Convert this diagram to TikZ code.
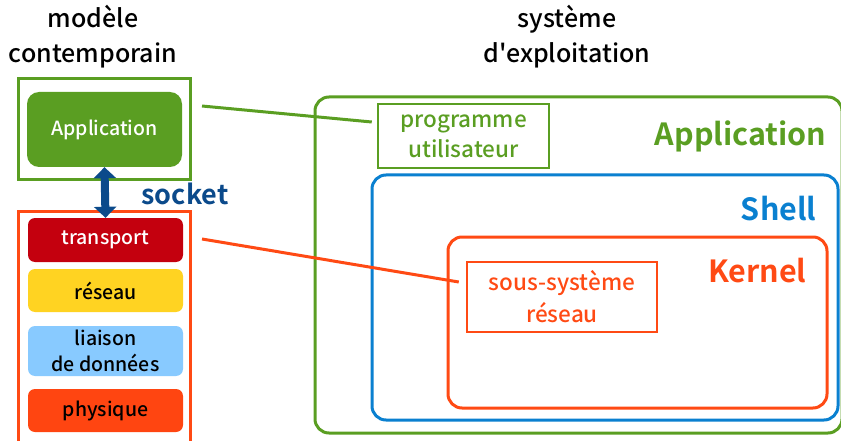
\documentclass[tikz,border=0pt]{standalone}
\usepackage{fontspec}
\IfFontExistsTF{Noto Sans CJK JP Medium}
    {\setmainfont{Noto Sans CJK JP Medium}[BoldFont={Noto Sans CJK JP Bold}, Ligatures=TeXOff]}
    {\setmainfont{Noto Sans CJK JP}[Ligatures=TeXOff]}
\usetikzlibrary{arrows.meta}
\definecolor{osgreen}{HTML}{5A9E22}
\definecolor{osblue}{HTML}{0A80D0}
\definecolor{osorange}{HTML}{FF4A14}
\definecolor{trred}{HTML}{C4000E}
\definecolor{rsyellow}{HTML}{FFD322}
\definecolor{lnblue}{HTML}{88CAFF}
\definecolor{phorange}{HTML}{FF4511}
\definecolor{sockblue}{HTML}{0B4A8B}
\tikzset{
    layer/.style={rounded corners=7pt, minimum width=155pt, inner sep=0pt, font=\fontsize{19.5}{26}\selectfont, align=center},
    frame/.style={draw, line width=3pt, rounded corners=#1},
    frame/.default=14pt,
    tag/.style={anchor=east, font=\fontsize{30.5}{36}\selectfont\bfseries},
}

\begin{document}
\begin{tikzpicture}[x=1pt, y=-1pt]
    \useasboundingbox (0,0) rectangle (841,441);
    % titles
    \node[align=center, font=\fontsize{25}{35}\selectfont] (tl) at (93,37) {modèle\\contemporain};
    \node[align=center, font=\fontsize{25}{35}\selectfont] (tr) at (567,37) {système\\d'exploitation};
    % modele contemporain
    \draw[osgreen, line width=3pt] (18,79) rectangle (190,180);
    \node[layer, fill=osgreen, text=white, minimum height=75pt, rounded corners=12pt] (app) at (104.5,129.5) {Application};
    \draw[osorange, line width=3pt] (18,211) rectangle (190,460);
    \node[layer, fill=trred, text=white, minimum height=44pt] (trans) at (105.5,240) {transport};
    \node[layer, fill=rsyellow, minimum height=43pt] (res) at (105.5,290.5) {réseau};
    \node[layer, fill=lnblue, minimum height=50pt, font=\fontsize{19.5}{26}\selectfont] (lia) at (105.5,351) {liaison\\de données};
    \node[layer, fill=phorange, minimum height=43pt] (phy) at (105.5,410.5) {physique};
    \draw[sockblue, line width=8pt, {Triangle[width=22pt,length=11pt]}-{Triangle[width=22pt,length=11pt]}] (app.south) -- (trans.north);
    \node[sockblue, font=\fontsize{27}{30}\selectfont\bfseries] (sock) at (185,194) {socket};
    % systeme d'exploitation
    \draw[frame, osgreen] (315,97) rectangle (842,433);
    \draw[frame, osblue] (372,175) rectangle (838,420);
    \draw[frame, osorange] (448,237) rectangle (827,408);
    \node[tag, osgreen] (lapp) at (830,136) {Application};
    \node[tag, osblue] (lsh) at (820,209) {Shell};
    \node[tag, osorange] (lker) at (810,271) {Kernel};
    \node[draw=osgreen, text=osgreen, line width=2.5pt, minimum width=171pt, minimum height=64pt, align=center, font=\fontsize{22.5}{30}\selectfont] (prog) at (463.5,136) {programme\\utilisateur};
    \node[draw=osorange, text=osorange, line width=2.5pt, minimum width=190pt, minimum height=70pt, align=center, font=\fontsize{22.5}{32}\selectfont] (sous) at (562,297) {sous-système\\réseau};
    % liens
    \coordinate (ga) at (202,106);
    \coordinate (oa) at (202,239);
    \draw[osgreen, line width=3pt] (ga) -- ([xshift=-5pt, yshift=14pt]prog.west);
    \draw[osorange, line width=3pt] (oa) -- ([xshift=-7pt, yshift=15pt]sous.west);
\end{tikzpicture}
\end{document}
